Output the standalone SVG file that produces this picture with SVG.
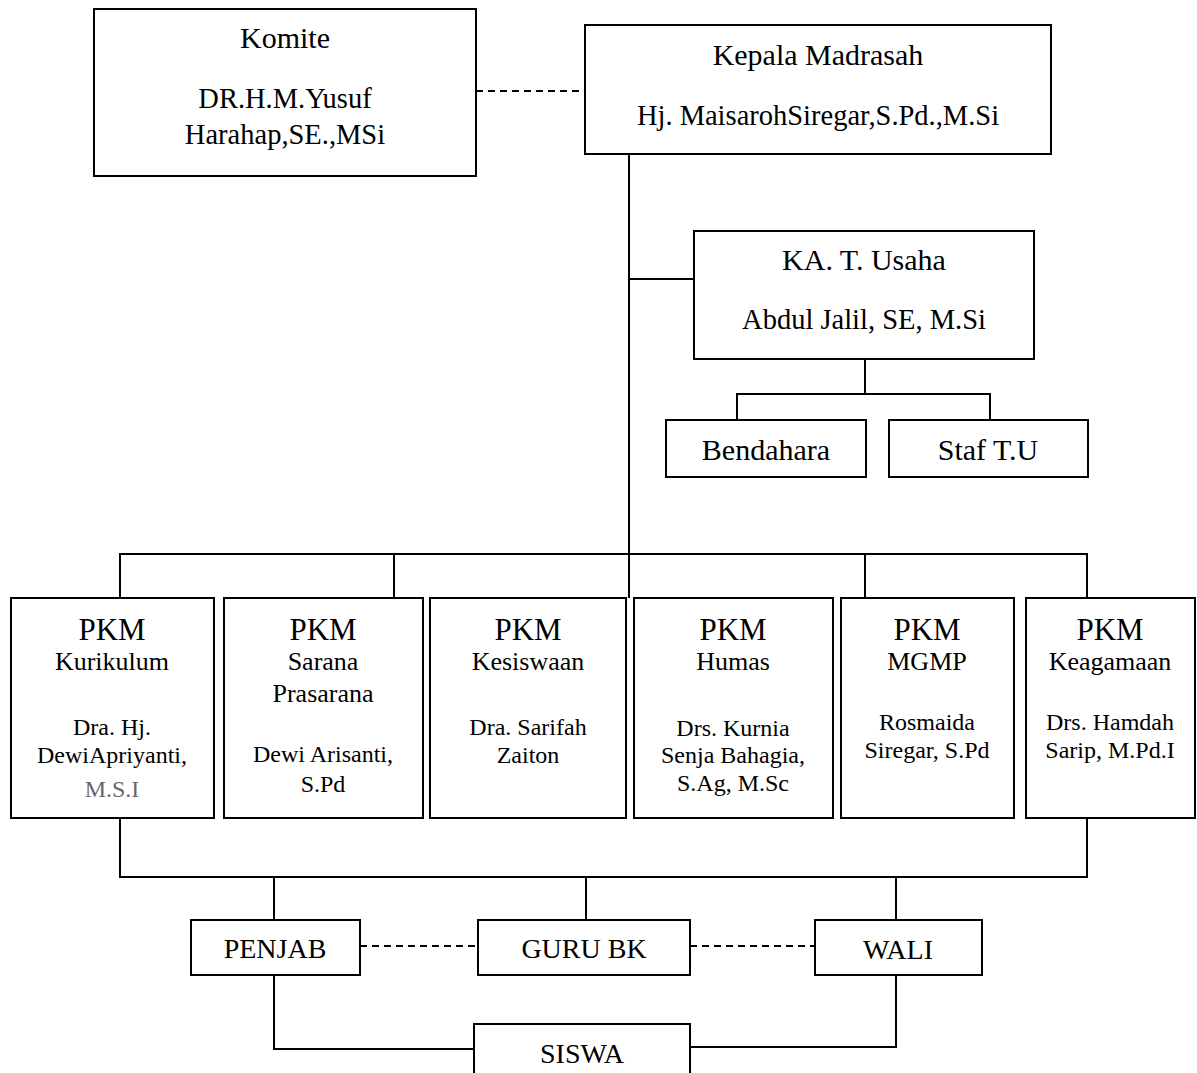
<svg xmlns="http://www.w3.org/2000/svg" width="1197" height="1073" viewBox="0 0 1197 1073">
<style>
.b{fill:#fff;stroke:#000;stroke-width:2}
.c{fill:none;stroke:#000;stroke-width:2}
.d{fill:none;stroke:#000;stroke-width:2;stroke-dasharray:7 5}
text{font-family:"Liberation Serif","Times New Roman",serif;fill:#000;text-anchor:middle}
.t{font-size:30px}
.n{font-size:28.5px}
.p{font-size:31px}
.s{font-size:26px}
.m{font-size:24px}
.g{font-size:28px}
</style>
<rect width="1197" height="1073" fill="#fff"/>
<g id="connectors">
<path class="d" d="M476 91H585"/>
<path class="c" d="M629 154V598"/>
<path class="c" d="M629 279H694"/>
<path class="c" d="M865 359V394M737 420V394H990V420"/>
<path class="c" d="M120 598V554H1087V598M394 554V598M865 554V598"/>
<path class="c" d="M120 818V877H1087V818"/>
<path class="c" d="M274 877V920M586 877V920M896 877V920"/>
<path class="d" d="M360 946H478M690 946H815"/>
<path class="c" d="M274 975V1049H474M896 975V1047H690"/>
</g>
<g id="komite">
<rect class="b" x="94" y="9" width="382" height="167"/>
<text class="t" x="285" y="48">Komite</text>
<text class="n" x="285" y="108">DR.H.M.Yusuf</text>
<text class="n" x="285" y="144">Harahap,SE.,MSi</text>
</g>
<g id="kepala">
<rect class="b" x="585" y="25" width="466" height="129"/>
<text class="t" x="818" y="65">Kepala Madrasah</text>
<text class="n" x="818" y="125">Hj. MaisarohSiregar,S.Pd.,M.Si</text>
</g>
<g id="ka-tu">
<rect class="b" x="694" y="231" width="340" height="128"/>
<text class="t" x="864" y="270">KA. T. Usaha</text>
<text class="n" x="864" y="329">Abdul Jalil, SE, M.Si</text>
</g>
<g id="bendahara">
<rect class="b" x="666" y="420" width="200" height="57"/>
<text class="t" x="766" y="460">Bendahara</text>
</g>
<g id="staf">
<rect class="b" x="889" y="420" width="199" height="57"/>
<text class="t" x="988" y="460">Staf T.U</text>
</g>
<g id="pkm-kurikulum">
<rect class="b" x="11" y="598" width="203" height="220"/>
<text class="p" x="112" y="640">PKM</text>
<text class="s" x="112" y="670">Kurikulum</text>
<text class="m" x="112" y="735">Dra. Hj.</text>
<text class="m" x="112" y="763">DewiApriyanti,</text>
<text class="m" x="112" y="797" fill="#666" style="fill:#666">M.S.I</text>
</g>
<g id="pkm-sarana">
<rect class="b" x="224" y="598" width="199" height="220"/>
<text class="p" x="323" y="640">PKM</text>
<text class="s" x="323" y="670">Sarana</text>
<text class="s" x="323" y="702">Prasarana</text>
<text class="m" x="323" y="762">Dewi Arisanti,</text>
<text class="m" x="323" y="792">S.Pd</text>
</g>
<g id="pkm-kesiswaan">
<rect class="b" x="430" y="598" width="196" height="220"/>
<text class="p" x="528" y="640">PKM</text>
<text class="s" x="528" y="670">Kesiswaan</text>
<text class="m" x="528" y="735">Dra. Sarifah</text>
<text class="m" x="528" y="763">Zaiton</text>
</g>
<g id="pkm-humas">
<rect class="b" x="634" y="598" width="199" height="220"/>
<text class="p" x="733" y="640">PKM</text>
<text class="s" x="733" y="670">Humas</text>
<text class="m" x="733" y="736">Drs. Kurnia</text>
<text class="m" x="733" y="763">Senja Bahagia,</text>
<text class="m" x="733" y="791">S.Ag, M.Sc</text>
</g>
<g id="pkm-mgmp">
<rect class="b" x="841" y="598" width="173" height="220"/>
<text class="p" x="927" y="640">PKM</text>
<text class="s" x="927" y="670">MGMP</text>
<text class="m" x="927" y="730">Rosmaida</text>
<text class="m" x="927" y="758">Siregar, S.Pd</text>
</g>
<g id="pkm-keagamaan">
<rect class="b" x="1026" y="598" width="169" height="220"/>
<text class="p" x="1110" y="640">PKM</text>
<text class="s" x="1110" y="670">Keagamaan</text>
<text class="m" x="1110" y="730">Drs. Hamdah</text>
<text class="m" x="1110" y="758">Sarip, M.Pd.I</text>
</g>
<g id="penjab">
<rect class="b" x="191" y="920" width="169" height="55"/>
<text class="g" x="275" y="958">PENJAB</text>
</g>
<g id="guru-bk">
<rect class="b" x="478" y="920" width="212" height="55"/>
<text class="g" x="584" y="958">GURU BK</text>
</g>
<g id="wali">
<rect class="b" x="815" y="920" width="167" height="55"/>
<text class="g" x="898" y="959">WALI</text>
</g>
<g id="siswa">
<rect class="b" x="474" y="1024" width="216" height="60"/>
<text class="g" x="582" y="1063">SISWA</text>
</g>
</svg>
